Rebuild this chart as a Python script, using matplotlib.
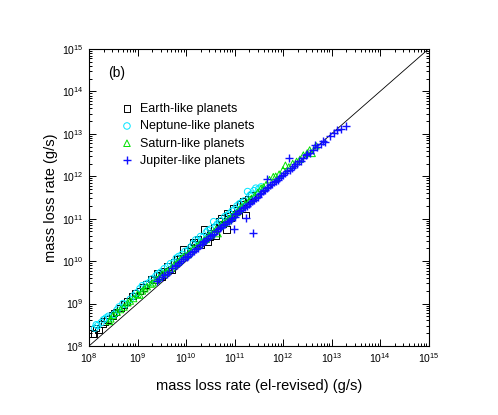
import numpy as np
import matplotlib
matplotlib.use('Agg')
import matplotlib.pyplot as plt
from matplotlib.ticker import LogLocator, NullFormatter

plt.rcParams['font.family'] = ['Liberation Sans', 'DejaVu Sans']
plt.rcParams['mathtext.fontset'] = 'custom'
plt.rcParams['mathtext.rm'] = 'Liberation Sans'
plt.rcParams['mathtext.it'] = 'Liberation Sans:italic'

# log10 of mass loss rates (x: el-revised, y: model)
earth_lx = [8.07, 8.10, 8.14, 8.20, 8.28, 8.32, 8.38, 8.48, 8.52, 8.56, 8.65, 8.72,
            8.78, 8.90, 8.95, 9.05, 9.12, 9.18, 9.28, 9.35, 9.40, 9.45, 9.50, 9.55,
            9.62, 9.70, 9.75, 9.82, 9.88, 9.95, 10.02, 10.10, 10.15, 10.20, 10.25,
            10.30, 10.37, 10.44, 10.48, 10.52, 10.58, 10.61, 10.68, 10.72, 10.75,
            10.84, 10.85, 10.88, 10.92, 10.98, 11.05, 11.12, 11.18, 11.23, 11.28,
            11.35]
earth_ly = [8.30, 8.28, 8.42, 8.38, 8.52, 8.58, 8.62, 8.72, 8.78, 8.80, 8.90, 8.98,
            9.05, 9.18, 9.25, 9.30, 9.38, 9.45, 9.58, 9.55, 9.72, 9.66, 9.64, 9.75,
            9.87, 9.80, 9.97, 10.05, 10.07, 10.27, 10.24, 10.32, 10.45, 10.40, 10.52,
            10.39, 10.74, 10.45, 10.57, 10.66, 10.80, 10.60, 10.93, 11.00, 10.87,
            10.74, 11.13, 11.06, 11.02, 11.25, 11.19, 11.33, 11.40, 11.09, 11.47,
            11.55]

neptune_lx = [8.12, 8.15, 8.18, 8.25, 8.30, 8.35, 8.40, 8.42, 8.52, 8.58, 8.62, 8.70,
              8.75, 8.85, 8.92, 8.98, 9.05, 9.10, 9.18, 9.25, 9.30, 9.38, 9.42, 9.48,
              9.55, 9.62, 9.68, 9.75, 9.80, 9.85, 9.92, 9.98, 10.05, 10.10, 10.15,
              10.20, 10.25, 10.30, 10.35, 10.42, 10.45, 10.50, 10.57, 10.62, 10.65,
              10.72, 10.80, 10.85, 10.90, 10.95, 11.00, 11.05, 11.10, 11.15, 11.20,
              11.27, 11.32, 11.35, 11.40, 11.44, 11.50, 11.55]
neptune_ly = [8.42, 8.50, 8.48, 8.55, 8.62, 8.66, 8.70, 8.66, 8.75, 8.85, 8.92, 9.00,
              8.98, 9.10, 9.18, 9.25, 9.35, 9.42, 9.46, 9.50, 9.58, 9.65, 9.70, 9.74,
              9.82, 9.87, 9.94, 9.97, 10.07, 10.11, 10.16, 10.23, 10.26, 10.33, 10.41,
              10.50, 10.49, 10.58, 10.56, 10.68, 10.72, 10.75, 10.93, 10.83, 10.88,
              10.95, 11.05, 11.08, 11.12, 11.18, 11.22, 11.30, 11.35, 11.38, 11.42,
              11.64, 11.55, 11.58, 11.66, 11.72, 11.70, 11.75]

saturn_lx = [8.42, 8.45, 8.50, 8.58, 8.65, 8.72, 8.80, 8.85, 8.92, 9.00, 9.05, 9.10,
             9.15, 9.20, 9.28, 9.32, 9.40, 9.45, 9.52, 9.58, 9.62, 9.70, 9.75, 9.80,
             9.85, 9.90, 9.95, 10.00, 10.05, 10.10, 10.15, 10.22, 10.28, 10.32, 10.38,
             10.42, 10.48, 10.52, 10.58, 10.62, 10.66, 10.70, 10.75, 10.80, 10.85,
             10.90, 10.95, 11.00, 11.05, 11.10, 11.15, 11.22, 11.30, 11.35, 11.42,
             11.48, 11.55, 11.60, 11.65, 11.72, 11.80, 11.85, 11.92, 12.00, 12.05,
             12.12, 12.20, 12.28, 12.35, 12.42, 12.50, 12.55, 12.60, 12.68]
saturn_ly = [8.58, 8.64, 8.72, 8.80, 8.86, 8.92, 9.02, 9.06, 9.12, 9.22, 9.20, 9.30,
             9.35, 9.40, 9.46, 9.49, 9.56, 9.62, 9.70, 9.73, 9.77, 9.84, 9.90, 9.94,
             9.99, 10.06, 10.11, 10.13, 10.16, 10.23, 10.30, 10.35, 10.40, 10.45, 10.50,
             10.52, 10.60, 10.62, 10.70, 10.75, 10.65, 10.82, 10.88, 10.90, 10.95,
             11.00, 11.05, 11.10, 11.15, 11.22, 11.28, 11.35, 11.42, 11.48, 11.55,
             11.62, 11.72, 11.75, 11.80, 11.92, 11.99, 12.00, 12.05, 12.15, 12.26,
             12.22, 12.30, 12.35, 12.40, 12.50, 12.55, 12.62, 12.54, 12.72]

jupiter_lx = [9.41, 9.45, 9.50, 9.55, 9.60, 9.65, 9.72, 9.78, 9.82, 9.86, 9.90, 9.94,
              9.98, 10.02, 10.05, 10.08, 10.12, 10.16, 10.20, 10.24, 10.28, 10.32,
              10.35, 10.38, 10.42, 10.46, 10.50, 10.54, 10.58, 10.62, 10.65, 10.70,
              10.72, 10.76, 10.80, 10.84, 10.88, 10.92, 10.95, 10.99, 11.00, 11.02,
              11.06, 11.10, 11.14, 11.18, 11.21, 11.23, 11.25, 11.29, 11.32, 11.36,
              11.39, 11.40, 11.44, 11.48, 11.52, 11.55, 11.58, 11.62, 11.66, 11.68,
              11.70, 11.74, 11.78, 11.82, 11.85, 11.89, 11.92, 11.96, 12.00, 12.05,
              12.08, 12.12, 12.15, 12.18, 12.22, 12.25, 12.29, 12.34, 12.38, 12.42,
              12.47, 12.50, 12.55, 12.62, 12.67, 12.70, 12.78, 12.82, 12.86, 12.97,
              13.05, 13.12, 13.19, 13.29]
jupiter_ly = [9.53, 9.57, 9.62, 9.67, 9.70, 9.74, 9.85, 9.89, 9.92, 9.96, 10.00, 10.04,
              10.10, 10.09, 10.12, 10.18, 10.22, 10.24, 10.28, 10.32, 10.38, 10.40,
              10.45, 10.48, 10.50, 10.55, 10.60, 10.62, 10.65, 10.70, 10.75, 10.78,
              10.80, 10.85, 10.88, 10.92, 10.95, 10.98, 11.02, 10.76, 11.05, 11.10,
              11.14, 11.18, 11.20, 11.25, 11.28, 11.01, 11.30, 11.35, 11.38, 11.42,
              10.66, 11.45, 11.50, 11.52, 11.58, 11.60, 11.65, 11.68, 11.72, 11.94,
              11.75, 11.80, 11.82, 11.86, 11.90, 11.92, 11.95, 12.00, 12.03, 12.08,
              12.12, 12.42, 12.15, 12.20, 12.25, 12.28, 12.30, 12.36, 12.35, 12.42,
              12.50, 12.52, 12.55, 12.62, 12.73, 12.70, 12.75, 12.82, 12.80, 12.95,
              13.03, 13.10, 13.11, 13.19]

series = [
    (earth_lx, earth_ly, 's', 'black', 'Earth-like planets'),
    (neptune_lx, neptune_ly, 'o', '#00e5ff', 'Neptune-like planets'),
    (saturn_lx, saturn_ly, '^', '#00e000', 'Saturn-like planets'),
    (jupiter_lx, jupiter_ly, '+', '#1010ff', 'Jupiter-like planets'),
]

fig = plt.figure(figsize=(4.98, 4.15), dpi=100)
ax = fig.add_axes([89 / 498, 1 - 346 / 415, 339.5 / 498, 297 / 415])

ax.plot([1e8, 1e15], [1e8, 1e15], color='black', linewidth=0.6, zorder=1)

for lx, ly, marker, color, label in series:
    x = 10 ** np.array(lx)
    y = 10 ** np.array(ly)
    if marker == '+':
        ax.scatter(x, y, marker='+', s=40, color=color, linewidths=1.0,
                   label=label, zorder=3)
    else:
        ax.scatter(x, y, marker=marker, s=22, facecolors='none',
                   edgecolors=color, linewidths=0.7, label=label, zorder=2)

ax.set_xscale('log')
ax.set_yscale('log')
ax.set_xlim(1e8, 1e15)
ax.set_ylim(1e8, 1e15)

for axis in (ax.xaxis, ax.yaxis):
    axis.set_major_locator(LogLocator(base=10, numticks=10))
    axis.set_minor_locator(LogLocator(base=10, subs=np.arange(2, 10), numticks=100))
    axis.set_minor_formatter(NullFormatter())

ax.tick_params(which='both', direction='in', top=True, right=True,
               labelsize=7.5, width=0.7)
ax.tick_params(which='major', length=5, pad=4)
ax.tick_params(which='minor', length=2.5)
for sp in ax.spines.values():
    sp.set_linewidth(0.8)

ax.set_xlabel('mass loss rate (el-revised) (g/s)', fontsize=10.5, labelpad=10)
ax.set_ylabel('mass loss rate (g/s)', fontsize=10.5, labelpad=3)

ax.text(0.055, 0.905, '(b)', transform=ax.transAxes, fontsize=10)

leg = ax.legend(loc='upper left', bbox_to_anchor=(0.075, 0.835), frameon=False,
                fontsize=9, handletextpad=0.45, labelspacing=0.42,
                borderaxespad=0, handlelength=1.2)

fig.savefig('out.png', dpi=100)
